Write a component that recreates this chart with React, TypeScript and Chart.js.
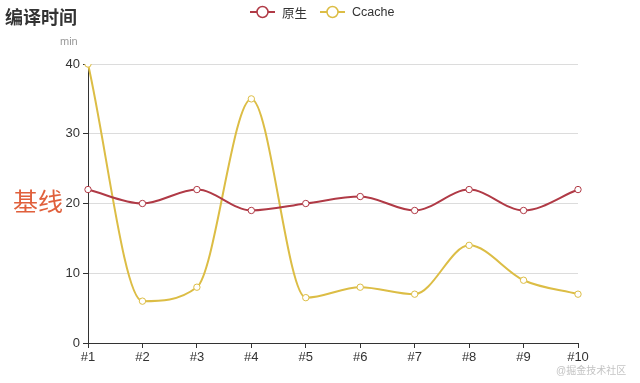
import React, { useEffect, useRef } from "react";
import { Chart, registerables } from "chart.js";

Chart.register(...registerables);

const categories = ["#1", "#2", "#3", "#4", "#5", "#6", "#7", "#8", "#9", "#10"];
const nativeValues = [22, 20, 22, 19, 20, 21, 19, 22, 19, 22];
const ccacheValues = [40, 6, 8, 35, 6.5, 8, 7, 14, 9, 7];
const seriesNames = ["原生", "Ccache"];
const yTicks = [0, 10, 20, 30, 40];
const titleText = "编译时间";
const axisName = "min";
const baselineLabel = "基线";
const watermark = "@掘金技术社区";

const RED = "#b03a46";
const YELLOW = "#dcbd45";
const FONT = "'Liberation Sans', 'Noto Sans CJK SC', sans-serif";

function LegendItem({ color, label, left }: { color: string; label: string; left: number }) {
  return (
    <div style={{ position: "absolute", left, top: 4, height: 16, display: "flex", alignItems: "center" }}>
      <svg width={25} height={14} style={{ display: "block" }}>
        <line x1={0} y1={7} x2={25} y2={7} stroke={color} strokeWidth={2} />
        <circle cx={12.5} cy={7} r={5.5} fill="#fff" stroke={color} strokeWidth={1.5} />
      </svg>
      <span style={{ marginLeft: 7, fontSize: 12.5, color: "#333", fontFamily: FONT }}>{label}</span>
    </div>
  );
}

export default function App() {
  const ref = useRef<HTMLCanvasElement | null>(null);

  useEffect(() => {
    if (!ref.current) return;
    const mk = (label: string, data: number[], color: string) => ({
      label,
      data,
      borderColor: color,
      backgroundColor: "#fff",
      borderWidth: 2,
      pointRadius: 3.2,
      pointBorderWidth: 1,
      pointBackgroundColor: "#fff",
      pointBorderColor: color,
      cubicInterpolationMode: "monotone" as const,
      fill: false,
    });
    const chart = new Chart(ref.current, {
      type: "line",
      data: {
        labels: categories,
        datasets: [mk(seriesNames[0], nativeValues, RED), mk(seriesNames[1], ccacheValues, YELLOW)],
      },
      options: {
        animation: false,
        responsive: false,
        maintainAspectRatio: false,
        layout: { padding: { top: 64, right: 62, bottom: 0, left: 0 } },
        plugins: {
          legend: { display: false },
          title: { display: false },
          tooltip: { enabled: false },
        },
        scales: {
          x: {
            type: "category",
            offset: false,
            afterFit: (s: any) => {
              s.height = 40;
            },
            grid: {
              drawOnChartArea: false,
              drawTicks: true,
              tickLength: 5,
              tickColor: "#333",
            },
            border: { display: true, color: "#333", width: 1 },
            ticks: {
              color: "#333",
              padding: 2,
              maxRotation: 0,
              autoSkip: false,
              font: { family: FONT, size: 13 },
            },
          },
          y: {
            min: 0,
            max: 40,
            afterFit: (s: any) => {
              s.width = 88;
            },
            afterBuildTicks: (s: any) => {
              s.ticks = yTicks.map((v) => ({ value: v }));
            },
            grid: {
              color: "#dcdcdc",
              tickColor: "#333",
              tickLength: 5,
              drawTicks: true,
            },
            border: { display: true, color: "#333", width: 1 },
            ticks: {
              color: "#333",
              padding: 3,
              font: { family: FONT, size: 13 },
            },
          },
        },
      },
    });
    return () => chart.destroy();
  }, []);

  return (
    <div style={{ position: "absolute", left: 0, top: 0, width: 640, height: 383, background: "#fff", fontFamily: FONT }}>
      <canvas ref={ref} width={640} height={383} style={{ position: "absolute", left: 0, top: 0, width: 640, height: 383 }} />
      <div style={{ position: "absolute", left: 5, top: 3, fontSize: 18, fontWeight: "bold", color: "#333", fontFamily: FONT }}>
        {titleText}
      </div>
      <LegendItem color={RED} label={seriesNames[0]} left={250} />
      <LegendItem color={YELLOW} label={seriesNames[1]} left={320} />
      <div style={{ position: "absolute", left: 60, top: 35, fontSize: 11, color: "#999", fontFamily: FONT }}>{axisName}</div>
      <div style={{ position: "absolute", left: 13, top: 182, fontSize: 25, color: "#e0603c", fontFamily: FONT }}>
        {baselineLabel}
      </div>
      <div style={{ position: "absolute", left: 556, top: 362, fontSize: 10, color: "#c4c4c4", fontFamily: FONT }}>
        {watermark}
      </div>
    </div>
  );
}
